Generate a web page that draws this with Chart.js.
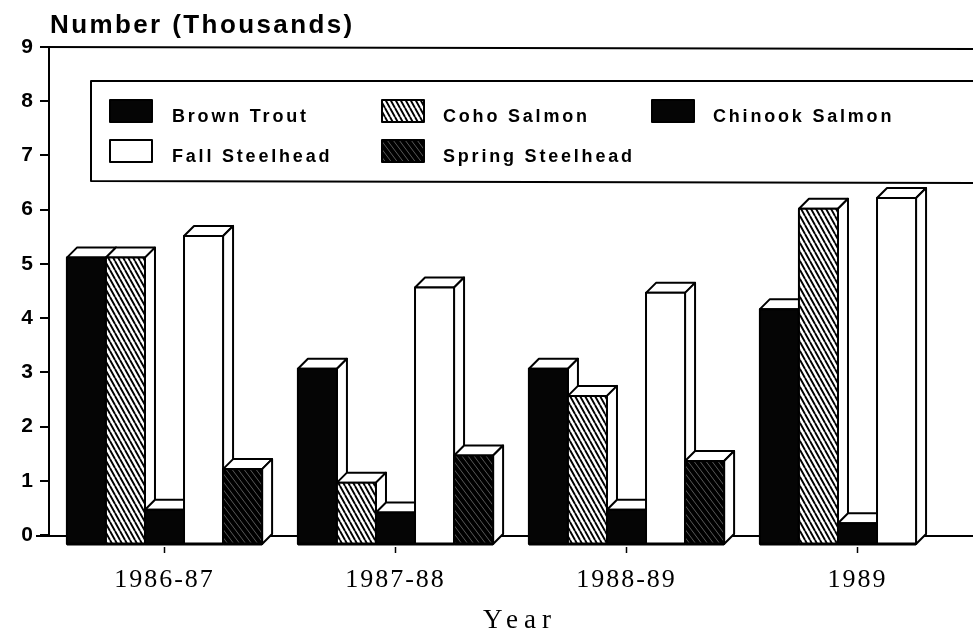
<!DOCTYPE html>
<html>
<head>
<meta charset="utf-8">
<script src="https://cdn.jsdelivr.net/npm/chart.js@4.4.0/dist/chart.umd.min.js"></script>
<style>
  html, body { margin: 0; padding: 0; background: #fff; }
  canvas { display: block; }
</style>
</head>
<body>
<canvas id="c" width="973" height="639"></canvas>
<script>
// ---- data ----
const categories = ['1986-87', '1987-88', '1988-89', '1989'];
const brownTrout = [5.3, 3.25, 3.25, 4.35];
const cohoSalmon = [5.3, 1.15, 2.75, 6.2];
const chinookSalmon = [0.65, 0.6, 0.65, 0.4];
const fallSteelhead = [5.7, 4.75, 4.65, 6.4];
const springSteelhead = [1.4, 1.65, 1.55, null];
const yTicks = [0, 1, 2, 3, 4, 5, 6, 7, 8, 9];
const seriesNames = ['Brown Trout', 'Coho Salmon', 'Chinook Salmon', 'Fall Steelhead', 'Spring Steelhead'];

const canvas = document.getElementById('c');
const ctx = canvas.getContext('2d');

// steep "\" hatching: tile w x h with a diagonal from (0,0) to (w,h)
function hatch(bg, fg, w, h, lw) {
  const c = document.createElement('canvas');
  c.width = w; c.height = h;
  const g = c.getContext('2d');
  g.fillStyle = bg; g.fillRect(0, 0, w, h);
  g.strokeStyle = fg; g.lineWidth = lw;
  g.beginPath();
  for (let k = -1; k <= 1; k++) {
    g.moveTo(k * w, 0);
    g.lineTo(k * w + w, h);
  }
  g.stroke();
  return ctx.createPattern(c, 'repeat');
}

const faces = [
  '#050505',
  hatch('#ffffff', '#000000', 5, 9, 1.9),
  '#050505',
  '#ffffff',
  hatch('#000000', 'rgba(255,255,255,0.35)', 6, 8, 1)
];

const DEPTH = 10;
const SANS = '"Liberation Sans", Arial, sans-serif';
const SERIF = '"Liberation Serif", "Times New Roman", serif';

const bars3d = {
  id: 'bars3d',
  beforeDraw(chart) {
    const c = chart.ctx;
    c.save();
    c.fillStyle = '#fff';
    c.fillRect(0, 0, chart.width, chart.height);
    c.restore();
  },
  afterDatasetsDraw(chart) {
    const c = chart.ctx;
    const ys = chart.scales.y, xs = chart.scales.x;
    const y0 = ys.getPixelForValue(0);
    const y9 = ys.getPixelForValue(9);
    c.save();
    c.strokeStyle = '#000';
    c.lineWidth = 2;
    // back wall top edge and floor line
    c.beginPath();
    c.moveTo(40, y9); c.lineTo(chart.width, y9 + 2);
    c.moveTo(36, y0 + 1); c.lineTo(chart.width, y0 + 1);
    c.stroke();

    // 3D bars
    const n = chart.data.labels.length;
    for (let i = 0; i < n; i++) {
      chart.data.datasets.forEach((ds, k) => {
        const v = ds.data[i];
        if (v === null || v === undefined) return;
        const el = chart.getDatasetMeta(k).data[i];
        const w = el.width;
        const x0 = el.x - w / 2, x1 = el.x + w / 2;
        const top = el.y + DEPTH, bot = el.base + DEPTH;
        c.lineJoin = 'round';
        c.lineWidth = 2;
        c.strokeStyle = '#000';
        c.fillStyle = '#fff';
        // top face
        c.beginPath();
        c.moveTo(x0, top); c.lineTo(x0 + DEPTH, top - DEPTH);
        c.lineTo(x1 + DEPTH, top - DEPTH); c.lineTo(x1, top); c.closePath();
        c.fill(); c.stroke();
        // side face
        c.beginPath();
        c.moveTo(x1, top); c.lineTo(x1 + DEPTH, top - DEPTH);
        c.lineTo(x1 + DEPTH, bot - DEPTH); c.lineTo(x1, bot); c.closePath();
        c.fill(); c.stroke();
        // front face
        c.fillStyle = ds.face;
        c.fillRect(x0, top, w, bot - top);
        c.strokeRect(x0, top, w, bot - top);
        // heavier floor edge
        c.lineWidth = 3;
        c.beginPath(); c.moveTo(x0, bot); c.lineTo(x1, bot); c.stroke();
      });
    }

    // x tick marks and category labels
    c.lineWidth = 1.5;
    c.fillStyle = '#000';
    c.font = '26px ' + SERIF;
    c.letterSpacing = '2px';
    c.textAlign = 'center';
    c.textBaseline = 'alphabetic';
    for (let i = 0; i < n; i++) {
      const px = xs.getPixelForValue(i);
      c.beginPath(); c.moveTo(px, y0 + 12); c.lineTo(px, y0 + 18); c.stroke();
      c.fillText(chart.data.labels[i], px, 587);
    }
    // axis title
    c.font = '27px ' + SERIF;
    c.letterSpacing = '6px';
    c.fillText('Year', 520, 628);

    // y axis title
    c.textAlign = 'left';
    c.font = 'bold 26px ' + SANS;
    c.letterSpacing = '2.4px';
    c.fillText('Number (Thousands)', 50, 33);

    // legend box
    c.lineWidth = 2;
    c.strokeStyle = '#000';
    c.beginPath();
    c.moveTo(chart.width + 5, 81); c.lineTo(91, 81); c.lineTo(91, 181); c.lineTo(chart.width + 5, 183);
    c.stroke();
    const colSw = [110, 382, 652];
    const colTx = [172, 443, 713];
    const rowBase = [122, 162];
    c.font = 'bold 18px ' + SANS;
    c.letterSpacing = '2.8px';
    chart.data.datasets.forEach((ds, k) => {
      const col = k % 3, row = Math.floor(k / 3);
      const sx = colSw[col], sy = rowBase[row] - 22;
      c.fillStyle = ds.face;
      c.fillRect(sx, sy, 42, 22);
      c.strokeRect(sx, sy, 42, 22);
      c.fillStyle = '#000';
      c.fillText(ds.label, colTx[col], rowBase[row]);
    });
    c.restore();
  }
};

const seriesValues = [brownTrout, cohoSalmon, chinookSalmon, fallSteelhead, springSteelhead];

new Chart(canvas, {
  type: 'bar',
  data: {
    labels: categories,
    datasets: seriesValues.map((vals, k) => ({
      label: seriesNames[k],
      data: vals,
      face: faces[k],
      backgroundColor: 'rgba(0,0,0,0)',
      borderWidth: 0,
      categoryPercentage: 0.845,
      barPercentage: 1.0
    }))
  },
  options: {
    responsive: false,
    animation: false,
    events: [],
    layout: { padding: { top: 47, bottom: 104, left: 0, right: 0 } },
    plugins: { legend: { display: false }, title: { display: false }, tooltip: { enabled: false } },
    scales: {
      x: { display: false },
      y: {
        min: 0, max: 9,
        afterFit(s) { s.width = 49; },
        afterBuildTicks(s) { s.ticks = yTicks.map(v => ({ value: v })); },
        ticks: {
          color: '#000',
          padding: 7,
          font: { family: SANS, weight: 'bold', size: 21 }
        },
        grid: { drawOnChartArea: false, tickLength: 9, color: '#000', lineWidth: 2 },
        border: { display: true, color: '#000', width: 2 }
      }
    }
  },
  plugins: [bars3d]
});
</script>
</body>
</html>
